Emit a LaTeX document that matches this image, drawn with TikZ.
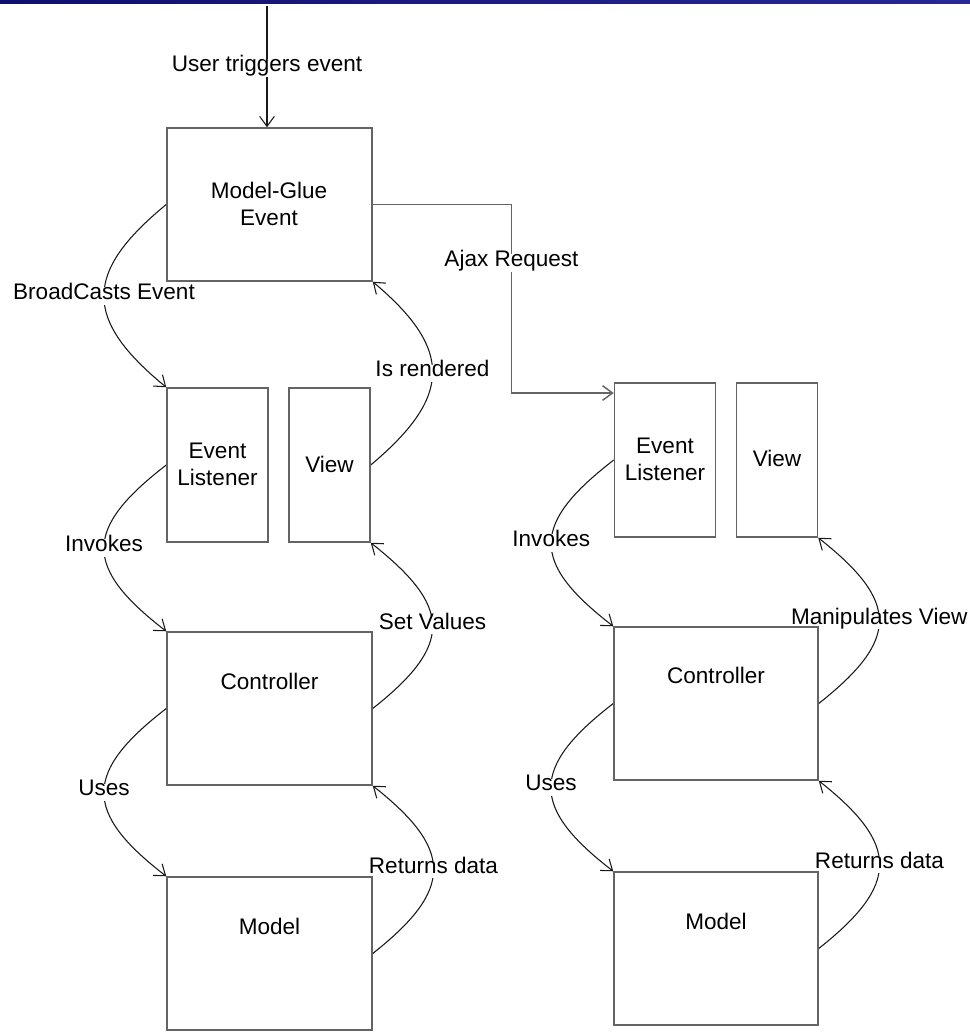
\documentclass[tikz,border=0pt]{standalone}
\usepackage{fontspec}
\setmainfont{Liberation Sans}
\usetikzlibrary{arrows.meta,backgrounds}
\definecolor{boxgray}{RGB}{100,100,100}
\definecolor{lncol}{RGB}{25,25,25}
\definecolor{barL}{RGB}{15,15,110}
\definecolor{barR}{RGB}{40,40,150}
\begin{document}
\begin{tikzpicture}[x=0.75pt,y=-0.75pt,
  every node/.style={font=\fontsize{16.9pt}{20.25pt}\selectfont},
  box/.style={draw=boxgray, line width=1.1pt, inner sep=0pt},
  bigbox/.style={box, minimum width=153.75pt, minimum height=114.75pt},
  tallbox/.style={box, minimum width=75.75pt, minimum height=115.5pt},
  viewbox/.style={box, minimum width=60.75pt, minimum height=115.5pt},
  txt/.style={anchor=base, inner sep=0pt},
  lbl/.style={fill=white, inner xsep=2pt, inner ysep=2pt, text height=0.72em, text depth=0.21em},
  conn/.style={draw=lncol, line width=0.8pt, -{Straight Barb[length=7.5pt,width=11pt]}},
  ajax/.style={draw=boxgray, line width=1.1pt, -{Straight Barb[length=7.5pt,width=11pt]}},
]
\useasboundingbox (0,0) rectangle (970,1032);
\shade[left color=barL, right color=barR] (0,0) rectangle (970,3);

% boxes, left column
\node[bigbox]  (mg)  at (269.5,204.5) {};
\node[tallbox] (elL) at (217.5,465) {};
\node[viewbox] (vwL) at (329.5,465) {};
\node[bigbox]  (ctL) at (269.5,708.5) {};
\node[bigbox]  (mdL) at (269.5,953.5) {};
% boxes, right column
\node[tallbox] (elR) at (665,460) {};
\node[viewbox] (vwR) at (777,460) {};
\node[bigbox, minimum width=153pt] (ctR) at (716,703.5) {};
\node[bigbox, minimum width=153pt] (mdR) at (716,948.5) {};

% box texts
\node[txt] (mgT1) at (269,198) {Model-Glue};
\node[txt] (mgT2) at (269,225) {Event};
\node[txt] (elLT1) at (217.5,458) {Event};
\node[txt] (elLT2) at (217.5,485) {Listener};
\node[txt] (vwLT) at (329.5,472) {View};
\node[txt] (ctLT) at (269.5,689) {Controller};
\node[txt] (mdLT) at (269.5,934) {Model};
\node[txt] (elRT1) at (665,453) {Event};
\node[txt] (elRT2) at (665,480) {Listener};
\node[txt] (vwRT) at (777,466) {View};
\node[txt] (ctRT) at (716,683) {Controller};
\node[txt] (mdRT) at (716,929) {Model};

\begin{pgfonlayer}{background}
% trigger
\coordinate (top) at (267,6);
\draw[conn] (top) -- (top |- mg.north) node[lbl, pos=0.51] {User triggers event};

% ajax request
\coordinate (ajx) at (511.5,393);
\draw[ajax] (mg.east) -| (ajx) node[lbl, pos=0.655] {Ajax Request} -- (ajx -| elR.west);

% left-hand curves (going down)
\draw[conn] (mg.west) .. controls +(-83,68) and +(-83,-68) .. (elL.north west)
  node[lbl, pos=0.5] {BroadCasts Event};
\draw[conn] (elL.west) .. controls +(-83,64) and +(-83,-64) .. (ctL.north west)
  node[lbl, pos=0.5] {Invokes};
\draw[conn] (ctL.west) .. controls +(-83,64) and +(-83,-64) .. (mdL.north west)
  node[lbl, pos=0.5] {Uses};
\draw[conn] (elR.west) .. controls +(-83,64) and +(-83,-64) .. (ctR.north west)
  node[lbl, pos=0.5] {Invokes};
\draw[conn] (ctR.west) .. controls +(-83,64) and +(-83,-64) .. (mdR.north west)
  node[lbl, pos=0.5] {Uses};

% right-hand curves (going up)
\draw[conn] (vwL.east) .. controls +(81,-68) and +(81,68) .. (mg.south east)
  node[lbl, pos=0.5] {Is rendered};
\draw[conn] (ctL.east) .. controls +(81,-64) and +(81,64) .. (vwL.south east)
  node[lbl, pos=0.5] {Set Values};
\draw[conn] (mdL.east) .. controls +(81,-64) and +(81,64) .. (ctL.south east)
  node[lbl, pos=0.5] {Returns data};
\draw[conn] (ctR.east) .. controls +(81,-64) and +(81,64) .. (vwR.south east)
  node[lbl, pos=0.5] {Manipulates View};
\draw[conn] (mdR.east) .. controls +(81,-64) and +(81,64) .. (ctR.south east)
  node[lbl, pos=0.5] {Returns data};
\end{pgfonlayer}
\end{tikzpicture}
\end{document}
